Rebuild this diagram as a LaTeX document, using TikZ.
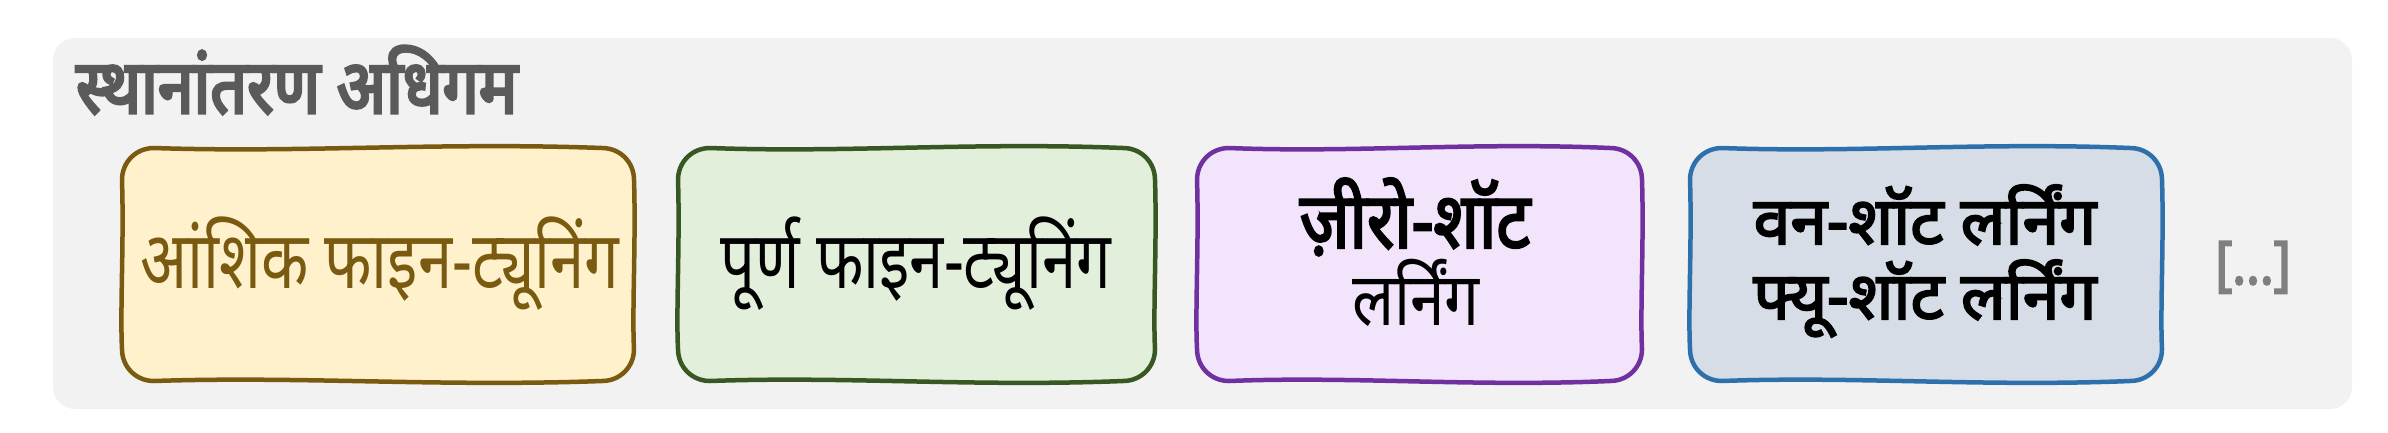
\documentclass[tikz,border=0pt]{standalone}
\usepackage{fontspec}
\newfontfamily\devA[Script=Devanagari,FakeStretch=0.77]{Noto Sans}
\newfontfamily\devB[Script=Devanagari,FakeStretch=0.84]{Noto Sans}
\newfontfamily\devTitle[Script=Devanagari,FakeStretch=0.86,FakeBold=4]{Noto Sans}
\newfontfamily\devBoldA[Script=Devanagari,FakeStretch=0.86,FakeBold=3]{Noto Sans}
\newfontfamily\devBoldB[Script=Devanagari,FakeStretch=1.0,FakeBold=3]{Noto Sans}
\definecolor{panelbg}{HTML}{F2F2F2}
\definecolor{yfill}{HTML}{FFF1CC}
\definecolor{ydraw}{HTML}{7A5A10}
\definecolor{gfill}{HTML}{E2EFDA}
\definecolor{gdraw}{HTML}{385723}
\definecolor{pfill}{HTML}{F2E4FA}
\definecolor{pdraw}{HTML}{7030A0}
\definecolor{bfill}{HTML}{D6DDE6}
\definecolor{bdraw}{HTML}{2E70AC}
\definecolor{titlegray}{HTML}{5A5A5A}
\definecolor{dotsgray}{HTML}{7F7F7F}
\tikzset{
  boxline/.style={line width=4.5bp, line join=round},
  lbl/.style={align=center, inner sep=0pt, anchor=base},
}
% x1 y1 x2 y2 fill draw
\newcommand{\wobblebox}[6]{%
\filldraw[boxline, fill=#5, draw=#6]
 ({#1+32},#2) .. controls ({#1+0.35*(#3-#1)},{#2+5}) and ({#1+0.62*(#3-#1)},{#2-6}) .. ({#3-32},{#2})
 .. controls ({#3-14},#2) and (#3,{#2+14}) .. (#3,{#2+32})
 .. controls ({#3+2},{#2+0.4*(#4-#2)}) and ({#3-2},{#2+0.7*(#4-#2)}) .. (#3,{#4-32})
 .. controls (#3,{#4-14}) and ({#3-14},#4) .. ({#3-32},#4)
 .. controls ({#1+0.62*(#3-#1)},{#4+6}) and ({#1+0.35*(#3-#1)},{#4-5}) .. ({#1+32},#4)
 .. controls ({#1+14},#4) and (#1,{#4-14}) .. (#1,{#4-32})
 .. controls ({#1-2},{#2+0.7*(#4-#2)}) and ({#1+2},{#2+0.4*(#4-#2)}) .. (#1,{#2+32})
 .. controls (#1,{#2+14}) and ({#1+14},#2) .. cycle;}
\begin{document}
\begin{tikzpicture}[x=1bp,y=-1bp]
\useasboundingbox (0,0) rectangle (2388,432);
\fill[white] (0,0) rectangle (2388,432);
\fill[panelbg, rounded corners=22bp] (53,38) rectangle (2352,409);
\node[anchor=base west, inner sep=0pt, text=titlegray, font=\devTitle\fontsize{75bp}{80bp}\selectfont] (title) at (76,113) {स्थानांतरण अधिगम};
% boxes
\wobblebox{122}{148}{634}{381}{yfill}{ydraw}
\wobblebox{678}{148}{1155}{381}{gfill}{gdraw}
\wobblebox{1197}{148}{1642}{381}{pfill}{pdraw}
\wobblebox{1690}{148}{2162}{381}{bfill}{bdraw}
\node[lbl, text=ydraw, font=\devA\fontsize{80bp}{86bp}\selectfont] (b1) at (380,288) {आंशिक फाइन-ट्यूनिंग};
\node[lbl, font=\devA\fontsize{80bp}{86bp}\selectfont] (b2) at (916,288) {पूर्ण फाइन-ट्यूनिंग};
\node[lbl, font=\devBoldA\fontsize{78bp}{84bp}\selectfont] (b3a) at (1415,248) {ज़ीरो-शॉट};
\node[lbl, font=\devB\fontsize{74bp}{80bp}\selectfont] (b3b) at (1416,325) {लर्निंग};
\node[lbl, font=\devBoldB\fontsize{66bp}{72bp}\selectfont] (b4a) at (1925,244) {वन-शॉट लर्निंग};
\node[lbl, font=\devBoldB\fontsize{66bp}{72bp}\selectfont] (b4b) at (1925,319) {फ्यू-शॉट लर्निंग};
\node[anchor=base, inner sep=0pt, text=dotsgray, font=\devBoldA\fontsize{60bp}{66bp}\selectfont] (dots) at (2253,284) {[...]};
\end{tikzpicture}
\end{document}
